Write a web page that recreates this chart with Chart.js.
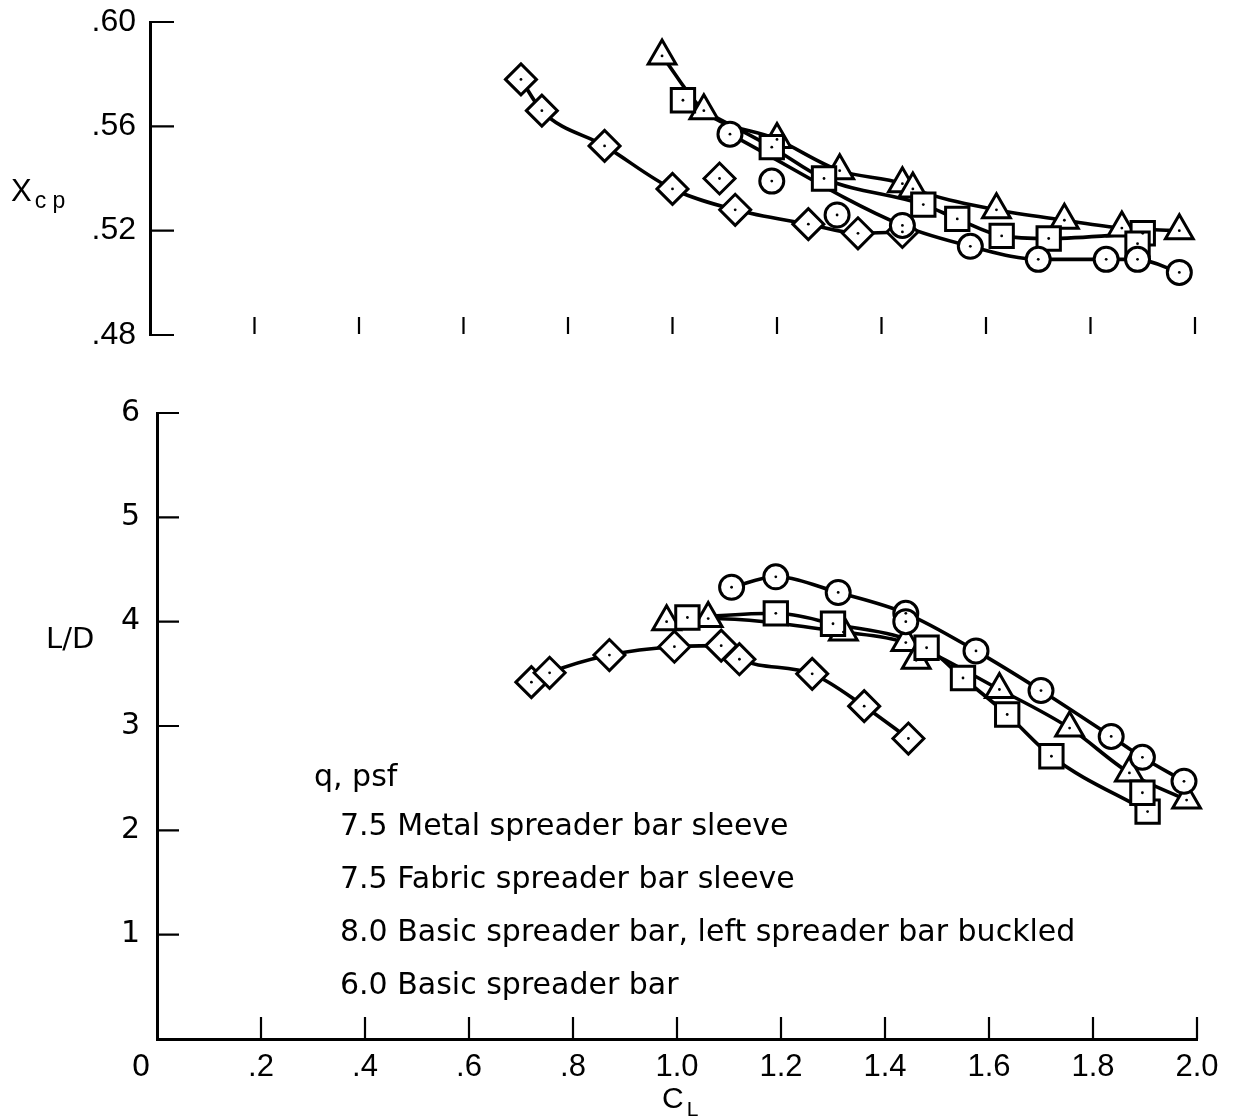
<!DOCTYPE html>
<html>
<head>
<meta charset="utf-8">
<title>Center of pressure and L/D against lift coefficient</title>
<script src="https://cdn.jsdelivr.net/npm/chart.js@4.4.1/dist/chart.umd.min.js"></script>
<style>
  body { margin: 0; background: #fff; }
  #wrap { position: relative; width: 1242px; height: 1117px; }
  canvas { position: absolute; left: 0; }
  #xcp { top: 0; }
  #ld { top: 360px; }
</style>
</head>
<body>
<div id="wrap">
  <canvas id="xcp" width="1242" height="360"></canvas>
  <canvas id="ld" width="1242" height="757"></canvas>
</div>
<script>
// legend text, in the order of the series below
var seriesNames = ['7.5 Metal spreader bar sleeve',
                   '7.5 Fabric spreader bar sleeve',
                   '8.0 Basic spreader bar, left spreader bar buckled',
                   '6.0 Basic spreader bar'];

// tick values
var clTicks = [0, 0.2, 0.4, 0.6, 0.8, 1.0, 1.2, 1.4, 1.6, 1.8, 2.0];
var xcpTicks = [0.48, 0.52, 0.56, 0.60];
var ldTicks = [0, 1, 2, 3, 4, 5, 6];

// upper panel: center of pressure (faired points, then points off the fairing)
var xcpMetalCL   = [1.11, 1.44, 1.57, 1.70, 1.83, 1.89, 1.97];
var xcpMetal     = [0.557, 0.522, 0.514, 0.509, 0.509, 0.509, 0.504];
var xcpMetalOffCL = [1.19, 1.315];
var xcpMetalOff   = [0.539, 0.526];

var xcpFabricCL  = [1.02, 1.19, 1.29, 1.48, 1.545, 1.63, 1.72, 1.90];
var xcpFabric    = [0.570, 0.552, 0.540, 0.530, 0.5245, 0.518, 0.517, 0.519];
var xcpFabricOffCL = [1.89];
var xcpFabricOff   = [0.515];

var xcpBuckledCL = [0.98, 1.06, 1.20, 1.32, 1.44, 1.46, 1.62, 1.75, 1.86, 1.97];
var xcpBuckled   = [0.587, 0.566, 0.555, 0.543, 0.538, 0.536, 0.528, 0.524, 0.521, 0.520];

var xcpBasicCL   = [0.71, 0.75, 0.87, 1.00, 1.12, 1.26, 1.355, 1.44];
var xcpBasic     = [0.578, 0.566, 0.5525, 0.536, 0.528, 0.5225, 0.519, 0.5195];
var xcpBasicOffCL = [1.09];
var xcpBasicOff   = [0.540];

// lower panel: lift-drag ratio
var ldMetalCL    = [1.105, 1.19, 1.31, 1.44, 1.575, 1.70, 1.835, 1.895, 1.975];
var ldMetal      = [4.33, 4.43, 4.28, 4.08, 3.72, 3.34, 2.90, 2.70, 2.47];
var ldMetalOffCL = [1.44];
var ldMetalOff   = [4.00];

var ldFabricCL   = [1.02, 1.19, 1.30, 1.48, 1.55, 1.635, 1.72, 1.905];
var ldFabric     = [4.04, 4.08, 3.98, 3.75, 3.46, 3.11, 2.71, 2.18];
var ldFabricOffCL = [1.895];
var ldFabricOff   = [2.36];

var ldBuckledCL  = [0.98, 1.06, 1.32, 1.44, 1.62, 1.755, 1.87, 1.98];
var ldBuckled    = [4.00, 4.03, 3.90, 3.80, 3.35, 2.98, 2.55, 2.29];
var ldBuckledOffCL = [1.46];
var ldBuckledOff   = [3.63];

var ldBasicCL    = [0.72, 0.755, 0.87, 0.995, 1.085, 1.12, 1.26, 1.36, 1.445];
var ldBasic      = [3.42, 3.51, 3.68, 3.76, 3.77, 3.64, 3.50, 3.19, 2.88];

// symbol for each configuration
var symbols = [{style: 'circle', r: 12},
               {style: 'rect', r: 16.5},
               {style: 'triangle', r: 16},
               {style: 'rectRot', r: 15.5}];

function pairs(xs, ys){
  return (xs || []).map(function(x, i){ return {x: x, y: ys[i]}; });
}

// each configuration is a faired curve, white symbols on top, and a dot in each symbol
function add_series(list, sym, xs, ys, offX, offY){
  var faired = pairs(xs, ys);
  var all = faired.concat(pairs(offX, offY));
  list.push({data: faired, showLine: true, pointRadius: 0, borderColor: '#000',
             borderWidth: 3.6, cubicInterpolationMode: 'monotone', order: 3, clip: false});
  list.push({data: all, showLine: false, pointStyle: sym.style, pointRadius: sym.r,
             pointBorderWidth: 3, pointBorderColor: '#000', pointBackgroundColor: '#fff',
             order: 2, clip: false});
  list.push({data: all, showLine: false, pointStyle: 'circle', pointRadius: 1.4,
             pointBorderWidth: 0, pointBackgroundColor: '#000', order: 1, clip: false});
}

var xcpSets = [];
add_series(xcpSets, symbols[0], xcpMetalCL, xcpMetal, xcpMetalOffCL, xcpMetalOff);
add_series(xcpSets, symbols[1], xcpFabricCL, xcpFabric, xcpFabricOffCL, xcpFabricOff);
add_series(xcpSets, symbols[2], xcpBuckledCL, xcpBuckled);
add_series(xcpSets, symbols[3], xcpBasicCL, xcpBasic, xcpBasicOffCL, xcpBasicOff);

var ldSets = [];
add_series(ldSets, symbols[0], ldMetalCL, ldMetal, ldMetalOffCL, ldMetalOff);
add_series(ldSets, symbols[1], ldFabricCL, ldFabric, ldFabricOffCL, ldFabricOff);
add_series(ldSets, symbols[2], ldBuckledCL, ldBuckled, ldBuckledOffCL, ldBuckledOff);
add_series(ldSets, symbols[3], ldBasicCL, ldBasic);

// short tick marks pointing into the plot
var inwardTicks = {
  id: 'inwardTicks',
  afterDraw: function(chart, args, opts){
    var ctx = chart.ctx, area = chart.chartArea;
    var xs = chart.scales.x, ys = chart.scales.y;
    ctx.save();
    ctx.strokeStyle = '#000';
    ctx.lineWidth = 2.2;
    ctx.beginPath();
    opts.xValues.forEach(function(v){
      if (v === xs.min) return;
      var px = xs.getPixelForValue(v);
      ctx.moveTo(px, area.bottom - opts.xGap);
      ctx.lineTo(px, area.bottom - opts.xGap - opts.xLen);
    });
    opts.yValues.forEach(function(v){
      if (v === ys.min && opts.skipYMin) return;
      var py = ys.getPixelForValue(v);
      ctx.moveTo(area.left, py);
      ctx.lineTo(area.left + opts.yLen, py);
    });
    ctx.stroke();
    ctx.restore();
  }
};

// free text: axis titles with subscripts, shared origin, legend
var freeText = {
  id: 'freeText',
  afterDraw: function(chart, args, opts){
    var ctx = chart.ctx;
    ctx.save();
    ctx.fillStyle = '#000';
    opts.items.forEach(function(t){
      ctx.font = t.font;
      ctx.textAlign = t.align || 'left';
      ctx.textBaseline = 'alphabetic';
      ctx.fillText(t.text, t.x, t.y);
      if (t.sub){
        var w = ctx.measureText(t.text).width;
        ctx.font = t.subFont;
        ctx.fillText(t.sub, t.x + w + 3, t.y + t.subDrop);
      }
    });
    ctx.restore();
  }
};

// fixed axis sizes, and no extra room for the end labels
function fixed_width(w){ return function(s){ s.width = w; s.paddingTop = 0; s.paddingBottom = 0; }; }
function fixed_height(h){ return function(s){ s.height = h; }; }

var tickFont = {family: "'Liberation Sans', Arial, sans-serif", size: 32};
var ldFont = {family: "'DejaVu Sans', sans-serif", size: 30};
var clFont = {family: "'Liberation Sans Narrow', 'Liberation Sans', sans-serif", size: 31};
var textFont = "30px 'DejaVu Sans', sans-serif";

new Chart(document.getElementById('xcp'), {
  type: 'scatter',
  data: {datasets: xcpSets},
  plugins: [inwardTicks, freeText],
  options: {
    responsive: false, animation: false, devicePixelRatio: 1, events: [],
    layout: {padding: {left: 0, right: 47, top: 22, bottom: 0}},
    scales: {
      x: {type: 'linear', min: 0, max: 2.0, afterFit: fixed_height(25),
          ticks: {display: false, stepSize: 0.2},
          grid: {display: false, drawTicks: false}, border: {display: false}},
      y: {type: 'linear', min: 0.48, max: 0.60, afterFit: fixed_width(150),
          afterBuildTicks: function(s){ s.ticks = xcpTicks.map(function(v){ return {value: v}; }); },
          ticks: {color: '#000', font: tickFont, padding: 14,
                  callback: function(v){ return v.toFixed(2).slice(1); }},
          grid: {display: false, drawTicks: false},
          border: {display: true, color: '#000', width: 3}}
    },
    plugins: {
      legend: {display: false}, tooltip: {enabled: false},
      inwardTicks: {xValues: clTicks, yValues: xcpTicks, xGap: 1, xLen: 17, yLen: 24},
      freeText: {items: [
        {text: 'X', sub: 'c p', x: 11, y: 201, font: "31px 'Liberation Sans', sans-serif",
         subFont: "23px 'Liberation Sans', sans-serif", subDrop: 7}
      ]}
    }
  }
});

var legendItems = [{text: 'q, psf', x: 314, y: 786, font: textFont}];
seriesNames.forEach(function(name, i){
  legendItems.push({text: name, x: 340, y: 835 + i * 53, font: textFont});
});
// the lower canvas starts 360px down the page
legendItems.forEach(function(t){ t.y -= 360; });

new Chart(document.getElementById('ld'), {
  type: 'scatter',
  data: {datasets: ldSets},
  plugins: [inwardTicks, freeText],
  options: {
    responsive: false, animation: false, devicePixelRatio: 1, events: [],
    layout: {padding: {left: 0, right: 45, top: 53, bottom: 0}},
    scales: {
      x: {type: 'linear', min: 0, max: 2.0, afterFit: fixed_height(78),
          afterBuildTicks: function(s){ s.ticks = clTicks.map(function(v){ return {value: v}; }); },
          ticks: {color: '#000', font: clFont, padding: 10, maxRotation: 0, autoSkip: false,
                  callback: function(v){
                    if (v === 0) return '';
                    return v < 1 ? v.toFixed(1).slice(1) : v.toFixed(1);
                  }},
          grid: {display: false, drawTicks: false},
          border: {display: true, color: '#000', width: 3}},
      y: {type: 'linear', min: 0, max: 6, afterFit: fixed_width(157),
          afterBuildTicks: function(s){ s.ticks = ldTicks.map(function(v){ return {value: v}; }); },
          ticks: {color: '#000', font: ldFont, padding: 17,
                  callback: function(v){ return v === 0 ? '' : String(v); }},
          grid: {display: false, drawTicks: false},
          border: {display: true, color: '#000', width: 3}}
    },
    plugins: {
      legend: {display: false}, tooltip: {enabled: false},
      inwardTicks: {xValues: clTicks, yValues: ldTicks, skipYMin: true, xGap: 0, xLen: 22, yLen: 22},
      freeText: {items: [
        {text: 'L/D', x: 46, y: 288, font: "29px 'DejaVu Sans', sans-serif"},
        {text: '0', x: 141, y: 716, align: 'center', font: "30px 'DejaVu Sans', sans-serif"},
        {text: 'C', sub: 'L', x: 662, y: 748, font: "30px 'Liberation Sans Narrow', 'Liberation Sans', sans-serif",
         subFont: "21px 'Liberation Sans', sans-serif", subDrop: 8}
      ].concat(legendItems)}
    }
  }
});
</script>
</body>
</html>
